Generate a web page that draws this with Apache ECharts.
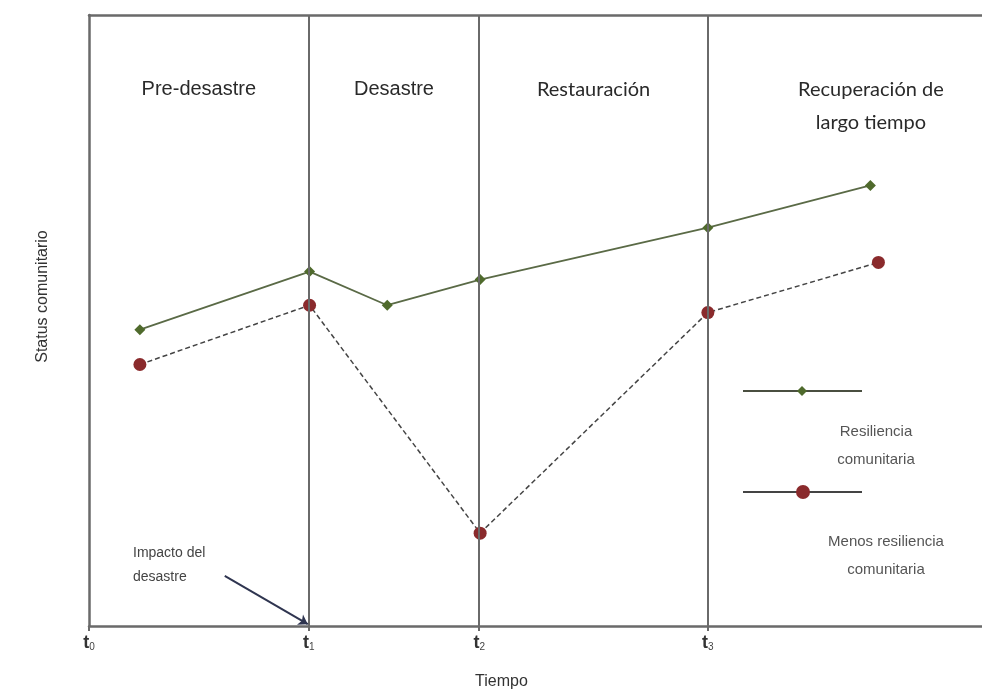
<!DOCTYPE html>
<html>
<head>
<meta charset="utf-8">
<script src="https://cdn.jsdelivr.net/npm/echarts@6/dist/echarts.min.js"></script>
<style>
  html, body { margin: 0; padding: 0; background: #fff; }
  #chart { width: 982px; height: 695px; }
</style>
</head>
<body>
<div id="chart"></div>
<script>
// time axis runs 0..100, status axis 0..100 (no numeric labels in the original)
const phaseNames = ["Pre-desastre", "Desastre", "Restauración", "Recuperación de\nlargo tiempo"];
const phaseEdges = [0, 24.6, 43.7, 69.3, 100];
const tickValues = [0, 24.6, 43.7, 69.3];
const tickSubs = ["0", "1", "2", "3"];

const resilX = [5.7, 24.7, 33.4, 43.8, 69.3, 87.5];
const resilY = [48.5, 58.0, 52.5, 56.7, 65.2, 72.1];
const lessX = [5.7, 24.7, 43.8, 69.3, 88.4];
const lessY = [42.8, 52.5, 15.2, 51.3, 59.5];

const impactFrom = [15.2, 8.2];
const impactTo = [24.5, 0.3];

const chartDom = document.getElementById("chart");
const chart = echarts.init(chartDom);

const green = "#4f6a2c";
const red = "#8a2a2c";
const frame = "#6a6a6a";

const areas = phaseNames.map((name, i) => [
  {
    xAxis: phaseEdges[i],
    name: name,
    label: {
      fontFamily: i >= 2 ? "Lato" : "Liberation Sans",
      offset: i === 3 ? [26, 0] : [0, 0],
    },
  },
  { xAxis: phaseEdges[i + 1] },
]);

const option = {
  animation: false,
  grid: { left: 89, right: 0, top: 15, bottom: 68 },
  xAxis: [
    {
      type: "value",
      min: 0,
      max: 100,
      splitLine: { show: false },
      axisLine: { lineStyle: { color: frame, width: 2.5 } },
      axisTick: { customValues: tickValues, length: 5, lineStyle: { color: frame, width: 2 } },
      axisLabel: {
        customValues: tickValues,
        margin: 8,
        formatter: (v) => {
          const i = tickValues.indexOf(v);
          return "{t|t}{s|" + tickSubs[i] + "}";
        },
        rich: {
          t: { fontSize: 18, fontWeight: "bold", color: "#333", fontFamily: "Liberation Sans" },
          s: { fontSize: 10, color: "#444", verticalAlign: "bottom", padding: [8, 0, 0, 0] },
        },
      },
      name: "Tiempo",
      nameLocation: "middle",
      nameGap: 48,
      nameTextStyle: {
        fontSize: 16,
        color: "#333",
        fontFamily: "Liberation Sans",
        padding: [0, 68, 0, 0],
      },
    },
    {
      type: "value",
      position: "top",
      min: 0,
      max: 100,
      splitLine: { show: false },
      axisLine: { show: true, lineStyle: { color: frame, width: 2.5 } },
      axisTick: { show: false },
      axisLabel: { show: false },
    },
  ],
  yAxis: {
    type: "value",
    min: 0,
    max: 100,
    splitLine: { show: false },
    axisLine: { show: true, lineStyle: { color: frame, width: 2.5 } },
    axisTick: { show: false },
    axisLabel: { show: false },
    name: "Status comunitario",
    nameLocation: "middle",
    nameGap: 38,
    nameTextStyle: {
      fontSize: 16,
      color: "#333",
      fontFamily: "Liberation Sans",
      padding: [0, 0, 0, 48],
    },
  },
  series: [
    {
      type: "line",
      data: [],
      silent: true,
      z: 1,
      markArea: {
        silent: true,
        itemStyle: { color: "rgba(0,0,0,0)" },
        label: {
          position: "insideTop",
          distance: 58,
          fontSize: 20,
          color: "#2a2a2a",
          lineHeight: 33,
          align: "center",
        },
        data: areas,
      },
      markLine: {
        silent: true,
        symbol: "none",
        label: { show: false },
        lineStyle: { color: frame, width: 2, type: "solid" },
        data: tickValues.slice(1).map((v) => ({ xAxis: v })),
      },
    },
    {
      type: "line",
      data: [],
      silent: true,
      z: 1,
      markLine: {
        silent: true,
        symbol: ["none", "arrow"],
        symbolSize: 9,
        label: { show: false },
        lineStyle: { color: "#2f3550", width: 2, type: "solid" },
        data: [[{ coord: impactFrom }, { coord: impactTo }]],
      },
    },
    {
      name: "Resiliencia comunitaria",
      type: "line",
      z: 3,
      data: resilX.map((x, i) => [x, resilY[i]]),
      symbol: "diamond",
      symbolSize: 11,
      itemStyle: { color: green },
      lineStyle: { color: "#5a6a46", width: 1.8 },
    },
    {
      name: "Menos resiliencia comunitaria",
      type: "line",
      z: 3,
      data: lessX.map((x, i) => [x, lessY[i]]),
      symbol: "circle",
      symbolSize: 13,
      itemStyle: { color: red },
      lineStyle: { color: "#444", width: 1.5, type: [5, 3] },
    },
  ],
  graphic: [
    { type: "line", shape: { x1: 743, y1: 391, x2: 862, y2: 391 }, style: { stroke: "#4a4f40", lineWidth: 2 } },
    { type: "polygon", shape: { points: [[802, 386], [807, 391], [802, 396], [797, 391]] }, style: { fill: green } },
    { type: "line", shape: { x1: 743, y1: 492, x2: 862, y2: 492 }, style: { stroke: "#444", lineWidth: 2 } },
    { type: "circle", shape: { cx: 803, cy: 492, r: 7 }, style: { fill: red } },
    {
      type: "text",
      x: 876,
      y: 418,
      style: {
        text: "Resiliencia\ncomunitaria",
        fontSize: 15,
        lineHeight: 28,
        fill: "#555",
        align: "center",
        fontFamily: "Liberation Sans",
      },
    },
    {
      type: "text",
      x: 886,
      y: 528,
      style: {
        text: "Menos resiliencia\ncomunitaria",
        fontSize: 15,
        lineHeight: 28,
        fill: "#555",
        align: "center",
        fontFamily: "Liberation Sans",
      },
    },
    {
      type: "text",
      left: 133,
      top: 541,
      style: {
        text: "Impacto del\ndesastre",
        fontSize: 14,
        lineHeight: 24,
        fill: "#444",
        fontFamily: "Liberation Sans",
      },
    },
  ],
};

chart.setOption(option);
window.addEventListener("resize", chart.resize);
</script>
</body>
</html>
